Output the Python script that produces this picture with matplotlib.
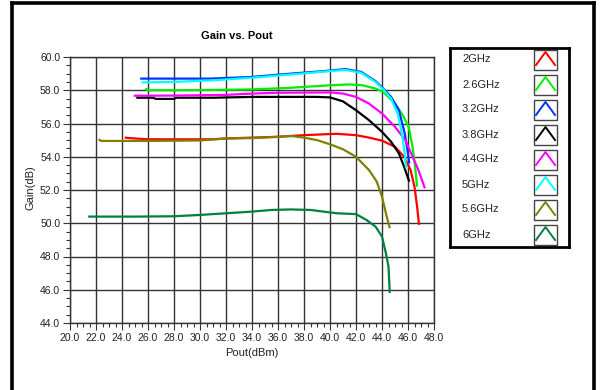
import matplotlib
matplotlib.use('Agg')
import matplotlib.pyplot as plt
from matplotlib.lines import Line2D
from matplotlib.patches import Rectangle
from matplotlib.ticker import MultipleLocator, FormatStrFormatter

plt.rcParams['font.family'] = ['Liberation Sans', 'DejaVu Sans']

labels = ["2GHz", "2.6GHz", "3.2GHz", "3.8GHz", "4.4GHz", "5GHz", "5.6GHz", "6GHz"]
colors = ['#ff0000', '#00ee00', '#0033ff', '#000000', '#ff00ff', '#00ffff', '#808000', '#008040']

# Pout (dBm) / Gain (dB)
pout_2g = [24.2, 25.0, 26.0, 28.0, 31.0, 32.0, 34.0, 36.0, 38.0, 40.5, 42.0, 43.0, 44.0, 45.0, 45.7, 46.2, 46.5, 46.7, 46.85]
gain_2g = [55.15, 55.1, 55.05, 55.05, 55.05, 55.1, 55.15, 55.2, 55.3, 55.38, 55.3, 55.15, 54.97, 54.6, 54.0, 53.2, 52.2, 51.0, 49.9]

pout_26g = [25.8, 26.0, 28.0, 31.0, 34.0, 37.0, 40.0, 41.5, 42.5, 43.5, 44.1, 45.0, 45.6, 46.05, 46.35, 46.55, 46.7]
gain_26g = [58.1, 58.0, 58.0, 58.02, 58.05, 58.15, 58.3, 58.35, 58.3, 58.1, 57.9, 57.2, 56.5, 55.8, 54.6, 53.4, 52.2]

pout_32g = [25.4, 28.0, 30.8, 34.0, 37.0, 39.5, 41.2, 42.4, 43.5, 44.1, 44.7, 45.3, 45.75, 45.96, 46.1]
gain_32g = [58.7, 58.7, 58.7, 58.8, 59.0, 59.15, 59.27, 59.1, 58.55, 58.1, 57.6, 56.8, 55.4, 54.4, 53.6]

pout_38g = [25.1, 26.4, 26.6, 28.0, 28.2, 31.0, 34.0, 39.0, 40.0, 41.0, 42.0, 43.0, 44.0, 44.7, 45.3, 45.7, 46.1]
gain_38g = [57.55, 57.55, 57.48, 57.48, 57.55, 57.55, 57.6, 57.6, 57.57, 57.33, 56.8, 56.2, 55.5, 54.9, 54.2, 53.4, 52.5]

pout_44g = [24.9, 28.0, 32.0, 34.0, 36.0, 40.0, 41.0, 42.0, 43.0, 44.0, 45.0, 45.8, 46.3, 46.8, 47.3]
gain_44g = [57.67, 57.68, 57.72, 57.8, 57.85, 57.87, 57.8, 57.6, 57.2, 56.6, 55.8, 55.0, 54.1, 53.2, 52.1]

pout_5g = [25.5, 28.0, 31.0, 34.0, 37.0, 40.0, 41.2, 42.4, 43.5, 44.1, 44.7, 45.2, 45.55, 45.75, 45.85]
gain_5g = [58.47, 58.5, 58.6, 58.75, 58.95, 59.15, 59.22, 59.05, 58.5, 58.05, 57.5, 56.6, 55.3, 54.2, 53.3]

pout_56g = [22.2, 22.4, 26.0, 30.0, 32.0, 34.0, 36.0, 37.0, 38.0, 39.0, 40.0, 41.0, 42.0, 43.0, 43.6, 44.0, 44.3, 44.6]
gain_56g = [55.05, 54.95, 54.95, 54.98, 55.1, 55.12, 55.2, 55.25, 55.15, 55.0, 54.75, 54.45, 54.0, 53.2, 52.5, 51.6, 50.6, 49.7]

pout_6g = [21.4, 25.0, 28.0, 30.0, 32.0, 34.0, 35.5, 37.0, 38.5, 39.5, 40.5, 42.0, 42.8, 43.5, 44.0, 44.3, 44.5, 44.6]
gain_6g = [50.4, 50.4, 50.42, 50.5, 50.6, 50.7, 50.8, 50.83, 50.8, 50.7, 50.6, 50.55, 50.2, 49.8, 49.2, 48.2, 47.4, 45.8]

series = [(pout_2g, gain_2g), (pout_26g, gain_26g), (pout_32g, gain_32g), (pout_38g, gain_38g),
          (pout_44g, gain_44g), (pout_5g, gain_5g), (pout_56g, gain_56g), (pout_6g, gain_6g)]

fig = plt.figure(figsize=(6, 3.9), dpi=100)
ax = fig.add_axes([70 / 600, 1 - 323 / 390, 364 / 600, 266 / 390])

for (x, y), c in zip(series, colors):
    ax.plot(x, y, color=c, lw=1.6, solid_capstyle='butt')

ax.set_xlim(20, 48)
ax.set_ylim(44, 60)
ax.xaxis.set_major_locator(MultipleLocator(2))
ax.xaxis.set_minor_locator(MultipleLocator(0.5))
ax.yaxis.set_major_locator(MultipleLocator(2))
ax.yaxis.set_minor_locator(MultipleLocator(0.5))
ax.xaxis.set_major_formatter(FormatStrFormatter('%.1f'))
ax.yaxis.set_major_formatter(FormatStrFormatter('%.1f'))
ax.tick_params(which='major', length=5, width=0.8, color='#333333', labelsize=7.5, pad=2, labelcolor='#222222')
ax.tick_params(which='minor', length=3, width=0.8, color='#333333')
ax.grid(True, which='major', color='#333333', lw=1)
for s in ax.spines.values():
    s.set_color('#333333')
    s.set_linewidth(1)

ax.set_xlabel('Pout(dBm)', fontsize=8, labelpad=4, color='#222222')
fig.text(31 / 600, 1 - 188 / 390, 'Gain(dB)', rotation=90, ha='center', va='center', fontsize=8, color='#222222')
fig.text(237 / 600, 1 - 36 / 390, 'Gain vs. Pout', ha='center', va='center', fontsize=8, fontweight='bold')

# legend panel
lg = fig.add_axes([450 / 600, 1 - 247 / 390, 119 / 600, 199 / 390])
lg.set_xlim(0, 119)
lg.set_ylim(199, 0)
lg.set_xticks([])
lg.set_yticks([])
for s in lg.spines.values():
    s.set_linewidth(2)
    s.set_color('black')
for i, (lab, c) in enumerate(zip(labels, colors)):
    y0 = 25 * i
    lg.text(12, y0 + 11.5, lab, ha='left', va='center', fontsize=8, color='#222222')
    lg.add_patch(Rectangle((84, y0 + 1.5), 23, 20, fill=False, ec='#444444', lw=1))
    lg.plot([86, 95.5, 105], [y0 + 17, y0 + 4, y0 + 17], color=c, lw=1.4)

# outer frame
fig.add_artist(Line2D([12 / 600, 12 / 600], [0, 1 - 2.5 / 390], transform=fig.transFigure, color='black', lw=2.6))
fig.add_artist(Line2D([12 / 600, 594 / 600], [1 - 2.5 / 390, 1 - 2.5 / 390], transform=fig.transFigure, color='black', lw=2.6))
fig.add_artist(Line2D([594 / 600, 594 / 600], [0, 1 - 2.5 / 390], transform=fig.transFigure, color='black', lw=2.6))

plt.savefig('out.png', dpi=100)
